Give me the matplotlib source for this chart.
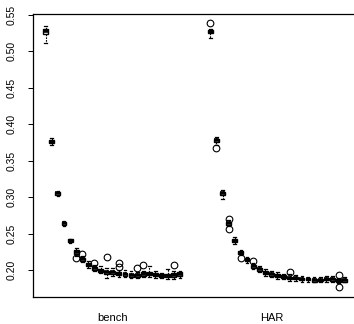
import matplotlib
matplotlib.use('Agg')
import matplotlib.pyplot as plt

# box stats, one entry per box
groups = ['bench', 'HAR']

bench_med = [0.5275, 0.376, 0.305, 0.264, 0.240, 0.225, 0.2147, 0.207, 0.2023, 0.199,
             0.1968, 0.1973, 0.195, 0.194, 0.1931, 0.1931, 0.1945, 0.195, 0.1936, 0.1922,
             0.1918, 0.1936, 0.1945]
bench_q1 = [0.524, 0.374, 0.303, 0.262, 0.238, 0.222, 0.213, 0.205, 0.200, 0.197,
            0.195, 0.195, 0.193, 0.192, 0.191, 0.191, 0.192, 0.193, 0.192, 0.190,
            0.190, 0.191, 0.192]
bench_q3 = [0.531, 0.378, 0.307, 0.266, 0.242, 0.228, 0.217, 0.209, 0.204, 0.201,
            0.199, 0.199, 0.197, 0.196, 0.195, 0.195, 0.197, 0.197, 0.196, 0.194,
            0.194, 0.196, 0.197]
bench_lo = [0.512, 0.372, 0.302, 0.261, 0.237, 0.219, 0.211, 0.203, 0.198, 0.196,
            0.1886, 0.192, 0.190, 0.190, 0.189, 0.189, 0.190, 0.190, 0.189, 0.189,
            0.188, 0.188, 0.189]
bench_hi = [0.535, 0.381, 0.309, 0.267, 0.243, 0.230, 0.219, 0.212, 0.207, 0.205,
            0.203, 0.203, 0.200, 0.200, 0.198, 0.197, 0.199, 0.205, 0.198, 0.196,
            0.201, 0.199, 0.199]
bench_out = [[], [], [], [], [], [0.217], [0.2215], [], [0.210], [],
             [0.2175], [], [0.210, 0.2045], [], [], [0.2032], [0.2064], [], [], [],
             [], [0.2064], []]

har_med = [0.527, 0.3784, 0.305, 0.264, 0.240, 0.2237, 0.2137, 0.205, 0.2014, 0.1963,
           0.194, 0.192, 0.1908, 0.1886, 0.1885, 0.1872, 0.1872, 0.1859, 0.1863, 0.1872,
           0.1872, 0.1853, 0.1859]
har_q1 = [0.525, 0.376, 0.303, 0.262, 0.238, 0.222, 0.212, 0.203, 0.199, 0.194,
          0.192, 0.190, 0.189, 0.187, 0.187, 0.186, 0.186, 0.184, 0.185, 0.186,
          0.185, 0.184, 0.184]
har_q3 = [0.529, 0.380, 0.307, 0.266, 0.242, 0.226, 0.216, 0.207, 0.203, 0.198,
          0.196, 0.194, 0.193, 0.190, 0.190, 0.189, 0.189, 0.188, 0.188, 0.189,
          0.189, 0.187, 0.188]
har_lo = [0.519, 0.372, 0.297, 0.261, 0.236, 0.220, 0.210, 0.201, 0.197, 0.192,
          0.190, 0.188, 0.187, 0.185, 0.185, 0.184, 0.184, 0.183, 0.183, 0.184,
          0.183, 0.182, 0.183]
har_hi = [0.531, 0.382, 0.310, 0.268, 0.245, 0.228, 0.218, 0.210, 0.206, 0.201,
          0.199, 0.197, 0.195, 0.194, 0.193, 0.192, 0.191, 0.190, 0.191, 0.192,
          0.192, 0.189, 0.191]
har_out = [[0.5386], [0.367], [], [0.270, 0.2563], [], [0.216], [], [0.2124], [], [],
           [], [], [], [0.1977], [], [], [], [], [], [],
           [], [0.1925, 0.177], []]

GAP = 4  # empty slots between the two groups


def make_stats(med, q1, q3, lo, hi, out):
    stats = []
    for i in range(len(med)):
        stats.append(dict(med=med[i], q1=q1[i], q3=q3[i],
                          whislo=lo[i], whishi=hi[i], fliers=out[i]))
    return stats


stats = make_stats(bench_med, bench_q1, bench_q3, bench_lo, bench_hi, bench_out)
stats += make_stats(har_med, har_q1, har_q3, har_lo, har_hi, har_out)
nb = len(bench_med)
positions = list(range(1, nb + 1)) + list(range(nb + GAP + 1, nb + GAP + 1 + len(har_med)))

plt.rcParams['font.family'] = ['Liberation Sans', 'DejaVu Sans']

fig = plt.figure(figsize=(3.54, 3.24), dpi=100)
ax = fig.add_axes([0.0932, 0.0843, 0.9068, 0.8716])

ax.bxp(stats, positions=positions, widths=0.8, patch_artist=True,
       capwidths=0.45,
       boxprops=dict(facecolor='white', edgecolor='black', linewidth=1.0),
       medianprops=dict(color='black', linewidth=2.6, solid_capstyle='butt'),
       whiskerprops=dict(color='black', linewidth=0.8, linestyle=(0, (1.5, 1))),
       capprops=dict(color='black', linewidth=0.9),
       flierprops=dict(marker='o', markerfacecolor='none', markeredgecolor='black',
                       markersize=4.8, markeredgewidth=0.8))

ax.set_xlim(-1.08, 51.54)
ax.set_ylim(0.16335, 0.55096)

ax.set_yticks([0.20, 0.25, 0.30, 0.35, 0.40, 0.45, 0.50, 0.55])
ax.set_yticklabels(['0.20', '0.25', '0.30', '0.35', '0.40', '0.45', '0.50', '0.55'],
                   rotation=90, va='center', fontsize=7.5)
ax.tick_params(axis='y', length=3.6, width=0.7, pad=8)

# group names sit under each block of boxes
ax.set_xticks([11.92, 38.05])
ax.set_xticklabels(groups, fontsize=8)
ax.tick_params(axis='x', length=0, pad=11.5)

ax.spines['right'].set_visible(False)
for s in ['left', 'top', 'bottom']:
    ax.spines[s].set_linewidth(0.9)

fig.savefig('out.png', dpi=100)
